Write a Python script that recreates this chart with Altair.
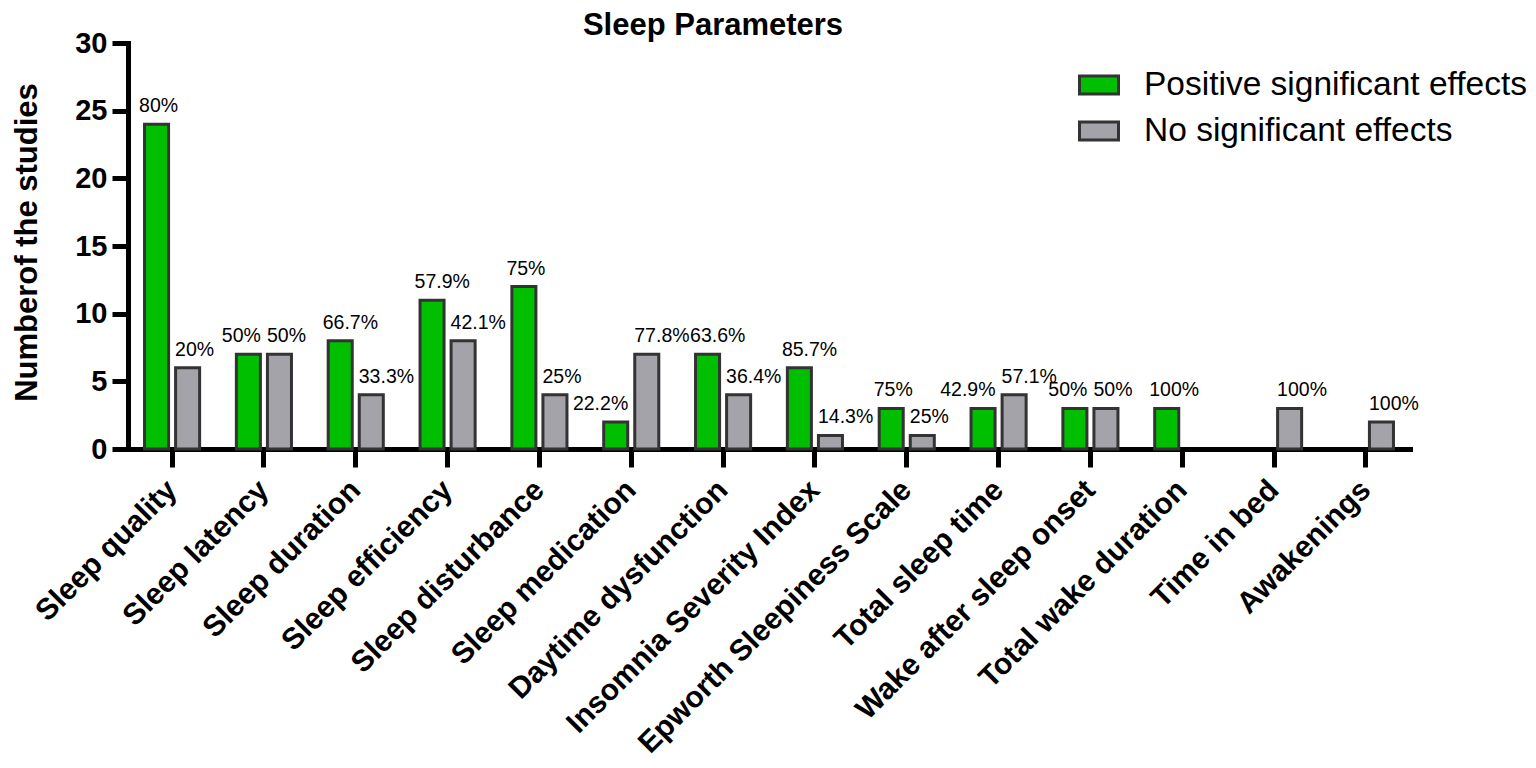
import altair as alt
import pandas as pd

FONT = "Liberation Sans"

categories = [
    "Sleep quality", "Sleep latency", "Sleep duration", "Sleep efficiency",
    "Sleep disturbance", "Sleep medication", "Daytime dysfunction",
    "Insomnia Severity Index", "Epworth Sleepiness Scale", "Total sleep time",
    "Wake after sleep onset", "Total wake duration", "Time in bed", "Awakenings",
]
series = ["Positive significant effects", "No significant effects"]
positive = [24, 7, 8, 11, 12, 2, 7, 6, 3, 3, 3, 3, 0, 0]
no_effect = [6, 7, 4, 8, 4, 7, 4, 1, 1, 4, 3, 0, 3, 2]
positive_pct = ["80%", "50%", "66.7%", "57.9%", "75%", "22.2%", "63.6%",
                "85.7%", "75%", "42.9%", "50%", "100%", "", ""]
no_effect_pct = ["20%", "50%", "33.3%", "42.1%", "25%", "77.8%", "36.4%",
                 "14.3%", "25%", "57.1%", "50%", "", "100%", "100%"]
y_ticks = [0, 5, 10, 15, 20, 25, 30]
colors = ["#00BE00", "#A3A3A9"]

rows = []
for i, c in enumerate(categories):
    rows.append(dict(category=c, series=series[0], value=positive[i],
                     other=no_effect[i], label=positive_pct[i]))
    rows.append(dict(category=c, series=series[1], value=no_effect[i],
                     other=positive[i], label=no_effect_pct[i]))
df = pd.DataFrame(rows)

xscale = alt.Scale(domain=categories, paddingInner=0.4, paddingOuter=0.18)
xoffscale = alt.Scale(domain=series, paddingInner=0.226, paddingOuter=0)
yscale = alt.Scale(domain=[0, 30], nice=False)
cscale = alt.Scale(domain=series, range=colors)

x_axis = alt.Axis(
    labelAngle=315, labelAlign="right", labelBaseline="middle",
    labelFont=FONT, labelFontSize=30, labelFontWeight="bold", labelColor="black",
    labelPadding=18, labelLimit=0, tickSize=18, tickWidth=5, tickColor="black",
    domainWidth=5, domainColor="black", domainCap="square", grid=False,
)
y_axis = alt.Axis(
    values=y_ticks, labelFont=FONT, labelFontSize=29, labelFontWeight="bold",
    labelColor="black", labelPadding=5, tickSize=16, tickWidth=5, tickColor="black",
    domainWidth=5, domainColor="black", domainCap="square", grid=False,
    titleFont=FONT, titleFontSize=31, titleFontWeight="bold", titleColor="black",
    titleX=-92, titleY=199, titleBaseline="alphabetic", titleAngle=270,
)

x_enc = alt.X("category:N", scale=xscale, sort=categories, axis=x_axis, title=None)
xo_enc = alt.XOffset("series:N", scale=xoffscale, sort=series)
y_enc = alt.Y("value:Q", scale=yscale, axis=y_axis, title="Numberof the studies")

base = alt.Chart(df)

bars = base.transform_filter("datum.value > 0").mark_bar(
    stroke="#333333", strokeWidth=3
).encode(
    x=x_enc, xOffset=xo_enc, y=y_enc,
    fill=alt.Fill("series:N", scale=cscale, sort=series, legend=alt.Legend(
        orient="none", legendX=950, legendY=21, title=None,
        labelFont=FONT, labelFontSize=33.5, labelColor="black", labelLimit=0,
        symbolType="M-1,-0.4615H1V0.4615H-1Z", symbolSize=1521,
        symbolStrokeColor="#333333", symbolStrokeWidth=3,
        labelOffset=24, rowPadding=8, padding=0,
    )),
)

label_style = dict(dy=-12, baseline="alphabetic", font=FONT, fontSize=19.5, color="black")

text_pos_left = base.transform_filter(
    f"datum.series == '{series[0]}' && datum.value > 0 && datum.other < datum.value"
).mark_text(align="left", dx=-17.5, **label_style).encode(
    x=x_enc, xOffset=xo_enc, y=y_enc, text="label:N"
)
text_pos_right = base.transform_filter(
    f"datum.series == '{series[0]}' && datum.value > 0 && datum.other >= datum.value"
).mark_text(align="right", dx=12.5, **label_style).encode(
    x=x_enc, xOffset=xo_enc, y=y_enc, text="label:N"
)
text_neg = base.transform_filter(
    f"datum.series == '{series[1]}' && datum.value > 0"
).mark_text(align="left", dx=-12.5, **label_style).encode(
    x=x_enc, xOffset=xo_enc, y=y_enc, text="label:N"
)

chart = alt.layer(bars, text_pos_left, text_pos_right, text_neg).properties(
    width=1282, height=406,
    padding={"left": 120, "top": 35, "right": 118, "bottom": 312},
    autosize="none",
    title=alt.TitleParams("Sleep Parameters", font=FONT, fontSize=31, fontWeight="bold",
                          color="black", anchor="middle", dx=-56, offset=0, dy=13,
                          frame="group"),
).configure(background="white").configure_view(stroke=None)

chart.save("out.html", embed_options={"renderer": "svg", "actions": False})
